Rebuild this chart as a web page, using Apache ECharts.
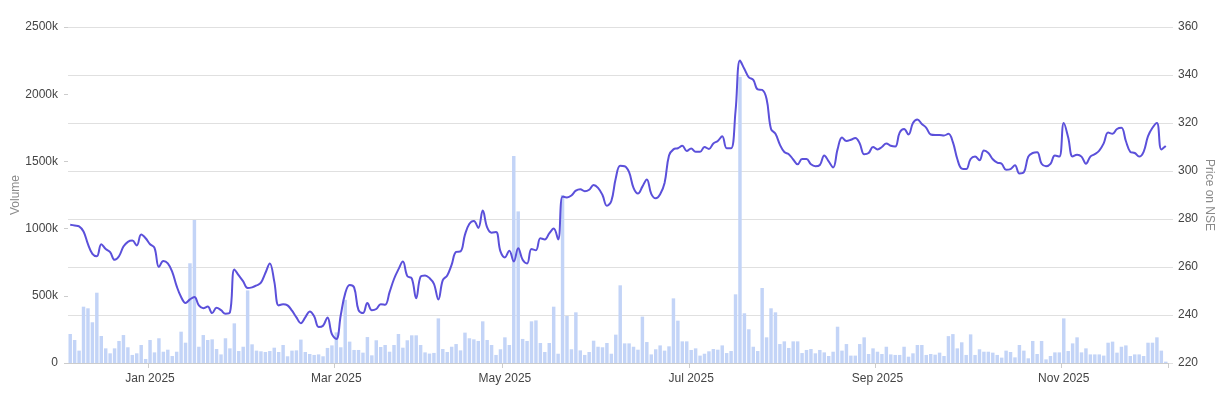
<!DOCTYPE html>
<html>
<head>
<meta charset="utf-8">
<script src="https://cdn.jsdelivr.net/npm/echarts@6/dist/echarts.min.js"></script>
<style>
  html, body { margin: 0; padding: 0; background: #fff; }
  #chart { width: 1226px; height: 398px; }
</style>
</head>
<body>
<div id="chart"></div>
<script>
// trading days on NSE, Dec 5 2024 .. Dec 5 2025
var startDate = '2024-12-05';
var endDate = '2025-12-05';
var holidays = ['2024-12-25', '2025-02-26', '2025-03-14', '2025-03-31', '2025-04-10', '2025-04-14',
  '2025-04-18', '2025-05-01', '2025-08-15', '2025-08-27', '2025-10-02', '2025-10-21', '2025-10-22', '2025-11-05'];
var monthNames = ['Jan', 'Feb', 'Mar', 'Apr', 'May', 'Jun', 'Jul', 'Aug', 'Sep', 'Oct', 'Nov', 'Dec'];
var labelMonths = [0, 2, 4, 6, 8, 10];

// daily volume, in thousands of shares
var volume = [
  216, 171, 92, 419, 407, 303, 523, 201, 109, 72,
  109, 164, 208, 117, 60, 72, 134, 30, 171, 79,
  184, 84, 99, 52, 84, 233, 151, 742, 1064, 121,
  208, 171, 176, 104, 64, 184, 109, 295, 89, 121,
  540, 139, 92, 87, 82, 89, 114, 82, 134, 50,
  92, 94, 174, 82, 67, 60, 64, 50, 112, 131,
  228, 117, 470, 159, 97, 97, 77, 193, 57, 169,
  119, 134, 84, 134, 216, 114, 169, 206, 206, 134,
  79, 70, 75, 332, 104, 82, 121, 141, 94, 226,
  184, 176, 164, 310, 171, 134, 60, 102, 191, 134,
  1540, 1128, 179, 164, 310, 317, 149, 82, 149, 419,
  69, 1250, 350, 102, 377, 94, 60, 82, 166, 121,
  117, 149, 69, 211, 578, 146, 146, 121, 99, 345,
  156, 64, 102, 131, 92, 124, 481, 315, 161, 161,
  97, 109, 55, 69, 87, 104, 99, 131, 74, 89,
  511, 2130, 370, 251, 121, 89, 558, 191, 407, 377,
  141, 161, 112, 161, 161, 74, 97, 104, 72, 97,
  79, 52, 84, 270, 92, 141, 55, 55, 141, 191,
  67, 109, 84, 67, 121, 64, 60, 60, 121, 47,
  72, 134, 134, 60, 67, 62, 77, 52, 200, 215,
  109, 154, 60, 213, 60, 102, 84, 84, 77, 60,
  40, 92, 82, 42, 134, 92, 35, 164, 67, 164,
  27, 52, 79, 79, 332, 89, 146, 191, 79, 109,
  64, 64, 64, 55, 151, 159, 77, 121, 131, 52,
  64, 64, 52, 151, 151, 191, 92, 10
];

// closing price on NSE
var price = [
  277.6, 277.3, 276.9, 274.8, 269.5, 265.5, 264.5, 269.5, 267.5, 266.2,
  263.0, 264.5, 268.5, 270.5, 271.0, 269.0, 273.5, 272.0, 269.5, 268.0,
  260.0, 262.5, 261.5, 258.0, 252.0, 247.5, 245.0, 246.5, 247.5, 244.0,
  242.8, 243.5, 240.8, 243.0, 242.0, 240.5, 241.0, 259.0, 256.5, 254.0,
  251.2, 251.5, 252.3, 253.5, 257.5, 261.5, 254.0, 244.0, 244.5, 244.0,
  241.8, 239.0, 236.6, 239.0, 241.5, 239.5, 235.0, 235.5, 239.0, 232.0,
  230.0, 240.0, 249.0, 252.5, 251.5, 242.0, 240.8, 245.0, 242.0, 242.5,
  244.5, 244.3, 249.5, 255.0, 259.0, 262.3, 256.2, 255.3, 247.0, 256.0,
  256.5, 255.4, 253.0, 246.5, 254.5, 256.5, 261.0, 266.3, 266.5, 273.5,
  278.0, 279.2, 276.3, 283.5, 276.5, 274.3, 274.6, 266.5, 264.0, 266.8,
  262.3, 267.8, 263.0, 261.5, 267.5, 267.0, 272.0, 271.5, 274.0, 276.0,
  271.5, 289.3, 289.0, 289.8, 291.8, 292.4, 291.6, 292.2, 294.2, 293.0,
  290.0, 285.5, 287.5, 297.0, 302.2, 302.0, 299.5, 293.0, 290.6, 293.5,
  296.5, 290.5, 288.6, 290.3, 295.0, 306.5, 309.0, 309.5, 310.5, 308.3,
  309.4, 308.0, 308.0, 310.0, 309.2, 311.5, 312.5, 314.5, 309.5, 309.5,
  325.0, 346.0, 342.5, 339.0, 338.0, 334.0, 333.8, 330.0, 317.5, 315.5,
  311.0, 307.9, 307.0, 304.8, 302.8, 305.0, 305.0, 302.8, 302.0, 302.5,
  306.5, 304.0, 301.5, 309.0, 314.0, 312.5, 313.0, 313.8, 311.5, 307.0,
  307.5, 310.0, 309.0, 310.0, 311.5, 310.5, 310.2, 316.0, 317.5, 315.2,
  320.0, 321.5, 319.6, 318.0, 315.2, 315.0, 315.0, 314.8, 315.5, 312.0,
  305.0, 301.0, 300.8, 305.0, 306.0, 304.5, 308.5, 307.5, 304.9, 303.5,
  303.0, 300.5, 300.8, 302.4, 299.0, 299.5, 306.0, 307.5, 307.8, 303.0,
  302.0, 303.0, 306.5, 306.0, 320.0, 314.0, 306.0, 306.8, 306.0, 303.0,
  306.0, 307.0, 308.5, 311.5, 316.0, 315.5, 317.5, 318.0, 312.5, 308.0,
  307.5, 306.0, 308.0, 314.5, 318.0, 320.0, 309.0, 310.4
];

function pad(n) {
  return n < 10 ? '0' + n : '' + n;
}

var dates = [];
var d = new Date(startDate + 'T00:00:00Z');
var last = new Date(endDate + 'T00:00:00Z');
while (d <= last) {
  var s = d.getUTCFullYear() + '-' + pad(d.getUTCMonth() + 1) + '-' + pad(d.getUTCDate());
  var wd = d.getUTCDay();
  if (wd != 0 && wd != 6 && holidays.indexOf(s) < 0) {
    dates.push(s);
  }
  d.setUTCDate(d.getUTCDate() + 1);
}

// first trading day of Jan, Mar, May ...
function isMonthStart(idx) {
  if (idx == 0) return false;
  var m = +dates[idx].substring(5, 7) - 1;
  var pm = +dates[idx - 1].substring(5, 7) - 1;
  return m != pm && labelMonths.indexOf(m) >= 0;
}

var font = 'Liberation Sans, Arial, sans-serif';
var chart = echarts.init(document.getElementById('chart'));
chart.setOption({
  animation: false,
  grid: { left: 68, right: 58, top: 27, bottom: 35, outerBoundsMode: 'none', containLabel: false },
  xAxis: {
    type: 'category',
    data: dates,
    boundaryGap: true,
    axisLine: { show: true, lineStyle: { color: '#cccccc' } },
    axisTick: {
      show: true,
      length: 5,
      interval: function (idx) { return isMonthStart(idx); },
      lineStyle: { color: '#cccccc' }
    },
    axisLabel: {
      interval: function (idx) { return isMonthStart(idx); },
      color: '#444',
      fontSize: 12,
      fontFamily: font,
      margin: 10,
      formatter: function (v) {
        return monthNames[+v.substring(5, 7) - 1] + ' ' + v.substring(0, 4);
      }
    },
    splitLine: { show: false }
  },
  yAxis: [{
    type: 'value',
    min: 0,
    max: 2500,
    interval: 500,
    name: 'Volume',
    nameLocation: 'middle',
    nameRotate: 90,
    nameGap: 46,
    nameMoveOverlap: false,
    nameTextStyle: { color: '#8a8a8a', fontSize: 12, fontFamily: font },
    axisLine: { show: false },
    axisTick: { show: true, length: 4, lineStyle: { color: '#cccccc' } },
    axisLabel: {
      color: '#444',
      fontSize: 12,
      fontFamily: font,
      margin: 10,
      formatter: function (v) { return v == 0 ? '0' : v + 'k'; }
    },
    splitLine: { show: false }
  }, {
    type: 'value',
    min: 220,
    max: 360,
    interval: 20,
    position: 'right',
    name: 'Price on NSE',
    nameLocation: 'middle',
    nameRotate: -90,
    nameGap: 35,
    nameMoveOverlap: false,
    nameTextStyle: { color: '#8a8a8a', fontSize: 12, fontFamily: font },
    axisLine: { show: false },
    axisTick: { show: true, length: 5, lineStyle: { color: '#e0e0e0' } },
    axisLabel: { color: '#444', fontSize: 12, fontFamily: font, margin: 10 },
    splitLine: { show: true, lineStyle: { color: '#e0e0e0', width: 1 } }
  }],
  series: [{
    name: 'Volume',
    type: 'bar',
    yAxisIndex: 0,
    data: volume,
    barCategoryGap: '22%',
    itemStyle: { color: '#c3d4f7' }
  }, {
    name: 'Price on NSE',
    type: 'line',
    yAxisIndex: 1,
    data: price,
    smooth: 0.4,
    symbol: 'none',
    z: 5,
    lineStyle: { color: '#5b50da', width: 2 }
  }]
});
</script>
</body>
</html>
